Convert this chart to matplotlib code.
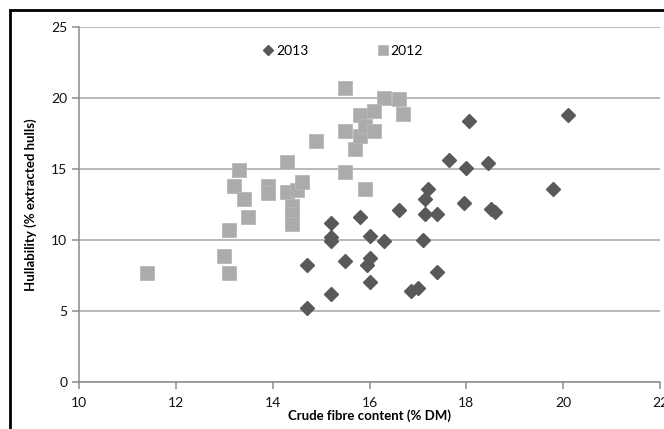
import matplotlib.pyplot as plt
from matplotlib.patches import Rectangle

plt.rcParams['font.family'] = ['Lato', 'DejaVu Sans']

# crude fibre (% DM) and hullability (% extracted hulls)
fibre_2013 = [14.7, 14.7, 15.2, 15.2, 15.2, 15.2, 15.5, 15.8, 16.0, 16.0, 15.95, 16.0, 16.3, 16.6,
              16.85, 17.0, 17.1, 17.15, 17.15, 17.2, 17.4, 17.4, 17.65, 17.95, 18.0, 18.05, 18.45,
              18.5, 18.6, 19.8, 20.1]
hull_2013 = [8.2, 5.2, 11.2, 10.2, 9.95, 6.2, 8.5, 11.6, 10.3, 8.7, 8.2, 7.0, 9.9, 12.1,
             6.4, 6.6, 10.0, 11.8, 12.9, 13.6, 11.8, 7.75, 15.6, 12.6, 15.1, 18.4, 15.4,
             12.2, 12.0, 13.6, 18.8]

fibre_2012 = [11.4, 13.0, 13.1, 13.1, 13.3, 13.2, 13.4, 13.5, 13.9, 13.9, 14.3, 14.3, 14.4, 14.4,
              14.4, 14.5, 14.6, 14.9, 15.5, 15.5, 15.5, 15.7, 15.8, 15.8, 15.9, 15.9, 16.1, 16.1,
              16.3, 16.6, 16.7]
hull_2012 = [7.7, 8.9, 7.7, 10.7, 14.9, 13.8, 12.9, 11.6, 13.8, 13.3, 15.5, 13.4, 12.4, 11.8,
             11.1, 13.5, 14.1, 17.0, 20.7, 17.7, 14.8, 16.4, 18.8, 17.3, 18.0, 13.6, 19.1, 17.7,
             20.0, 19.9, 18.9]

fig = plt.figure(figsize=(6.64, 4.29), dpi=100)
ax = fig.add_axes([0.119, 0.110, 0.875, 0.827])

ax.plot(fibre_2013, hull_2013, linestyle='none', marker='D', markersize=7.2,
        color='#595959', markeredgecolor='#595959', label='2013', zorder=3)
ax.plot(fibre_2012, hull_2012, linestyle='none', marker='s', markersize=10.5,
        color='#ababab', markeredgecolor='#b8b8b8', markeredgewidth=0.6, label='2012', zorder=3)

ax.set_xlim(10, 22)
ax.set_ylim(0, 25)
ax.set_xticks(range(10, 23, 2))
ax.set_yticks(range(0, 26, 5))
ax.yaxis.grid(True, color='#a6a6a6', linewidth=1.1)
ax.set_axisbelow(True)

for s in ['top', 'right']:
    ax.spines[s].set_visible(False)
for s in ['left', 'bottom']:
    ax.spines[s].set_color('#8c8c8c')
    ax.spines[s].set_linewidth(1.1)
ax.tick_params(axis='both', colors='#8c8c8c', length=5, width=1.1,
               labelsize=10, labelcolor='#111111')
ax.tick_params(axis='x', pad=6)

ax.set_xlabel('Crude fibre content (% DM)', fontsize=9.5, fontweight='bold', labelpad=0)
ax.set_ylabel('Hullability (% extracted hulls)', fontsize=9.5, fontweight='bold', labelpad=10)

ax.legend(ncol=2, frameon=False, loc='center', bbox_to_anchor=(0.453, 0.932),
          fontsize=10, handletextpad=0.05, columnspacing=4.9, handlelength=1.0,
          markerscale=0.75)

# outer chart frame
fig.patches.append(Rectangle((9.5 / 664, -0.2), 1.2, 0.2 + 1 - 10.5 / 429,
                             transform=fig.transFigure, fill=False,
                             edgecolor='black', linewidth=2))

fig.savefig('out.png', dpi=100)
